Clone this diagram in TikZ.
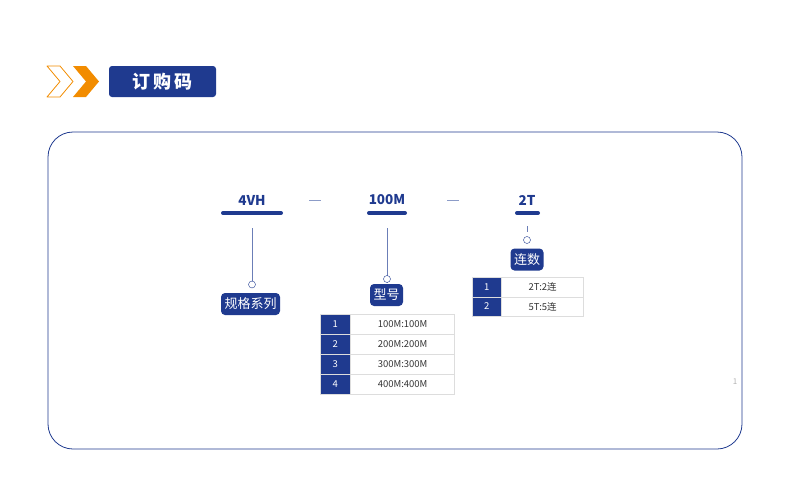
\documentclass[tikz,border=0pt]{standalone}
\usepackage{fontspec}
\setmainfont{Noto Sans CJK SC}
\newfontfamily\cjk{Noto Sans CJK SC}
\usetikzlibrary{positioning}
\definecolor{navy}{HTML}{1F3A8F}
\definecolor{amber}{HTML}{F28C00}
\definecolor{paleline}{HTML}{8C9CC8}
\definecolor{cellline}{HTML}{DDDDDD}
\tikzset{
    code/.style={font=\bfseries\fontsize{13.5}{15}\selectfont, text=navy}, % 型号代码
    tag/.style={fill=navy, rounded corners=4pt, text=white, font=\fontsize{13}{15}\selectfont, inner xsep=3.5pt, inner ysep=0pt, minimum height=22pt}, % 标签
    numcell/.style={fill=navy, draw=cellline, text=white, minimum width=30pt, minimum height=20pt, inner sep=0pt, font=\fontsize{9.5}{11}\selectfont},
    txtcell/.style={draw=cellline, text=black!80, minimum height=20pt, inner sep=0pt, font=\fontsize{9.5}{11}\selectfont}
}
\begin{document}
\begin{tikzpicture}[x=1pt, y=-1pt]
    \useasboundingbox (0,0) rectangle (790,485);

    \draw[amber, line width=0.8pt, line join=round] (47,66) -- (60,66) -- (73,81.5) -- (60,97) -- (47,97) -- (60,81.5) -- cycle;
    \fill[amber] (73,66) -- (86,66) -- (99,81.5) -- (86,97) -- (73,97) -- (86,81.5) -- cycle;
    \fill[navy, rounded corners=3pt] (109,66) rectangle (216,97);
    \node[text=white, font=\bfseries\fontsize{18}{20}\selectfont] (title) at (162.5,81.5) {订\,购\,码};

    \draw[navy, line width=0.8pt, rounded corners=25pt] (48,132) rectangle (742,449);

    \node[code] (c1) at (252,200) {4VH};
    \node[code] (c2) at (387,200) {100M};
    \node[code] (c3) at (527,200) {2T};
    \draw[navy, line width=4pt, line cap=round] (223,213) -- (281,213);
    \draw[navy, line width=4pt, line cap=round] (369,213) -- (405,213);
    \draw[navy, line width=4pt, line cap=round] (517,213) -- (538,213);
    \draw[paleline, line width=1pt] (309,200) -- (321,200) (447,200) -- (459,200);

    \node[tag] (t1) at (250.5,304) {规格系列};
    \node[tag] (t2) at (386.5,295) {型号};
    \node[tag] (t3) at (527,259.5) {连数};
    \coordinate (o1) at (252,284.5);
    \coordinate (o2) at (387,279);
    \coordinate (o3) at (527,240);
    \draw[paleline!70!navy] (252,228) -- ([yshift=-3.5]o1) (387,228) -- ([yshift=-3.5]o2) (527,226) -- (527,232);
    \draw[navy, fill=white] (o1) circle (3.5) (o2) circle (3.5) (o3) circle (3.5);

    \foreach \i/\v in {1/100,2/200,3/300,4/400} {
        \node[numcell, anchor=north west] (n\i) at (320,294+20*\i) {\i};
        \node[txtcell, minimum width=104pt, right=0pt of n\i] (m\i) {\v M:\v M};
    }
    \foreach \i/\v in {1/2,2/5} {
        \node[numcell, minimum width=29pt, minimum height=19.5pt, anchor=north west] (p\i) at (472,257.5+19.5*\i) {\i};
        \node[txtcell, minimum width=82pt, minimum height=19.5pt, right=0pt of p\i] (q\i) {\v T:\v 连};
    }

    \node[text=black!30, font=\fontsize{8}{9}\selectfont] (pg) at (735,382) {1};
\end{tikzpicture}
\end{document}
